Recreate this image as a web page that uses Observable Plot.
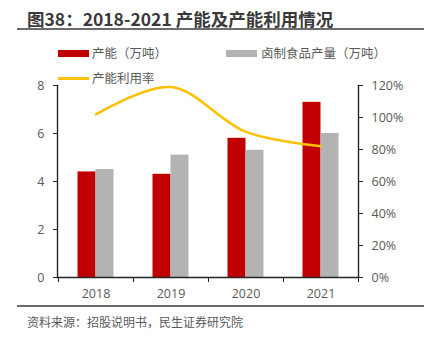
<!DOCTYPE html>
<html><head><meta charset="utf-8">
<script src="https://cdn.jsdelivr.net/npm/d3@7"></script>
<script src="https://cdn.jsdelivr.net/npm/@observablehq/plot@0.6"></script>
<style>
body{margin:0;background:#fff;}
#wrap{position:relative;width:431px;height:347px;overflow:hidden;font-family:"Noto Sans CJK SC","Open Sans",sans-serif;}
#chart{position:absolute;left:0;top:0;}
.t{position:absolute;white-space:nowrap;}
#title{left:27px;top:7px;font-size:17.5px;font-weight:bold;color:#3a3a3a;line-height:24px;}
.hr{position:absolute;left:17px;width:407px;height:2px;background:#6b6b6b;}
.leg{font-size:12.5px;color:#595959;line-height:16px;}
.sw{position:absolute;width:31px;}
#src{left:27px;top:313px;font-size:12px;color:#595959;line-height:17px;}
</style></head>
<body><div id="wrap">
<div id="chart"></div>
<div class="t" id="title">图38：2018-2021 产能及产能利用情况</div>
<div class="hr" style="top:28px"></div>
<div class="sw" style="left:58px;top:50px;height:7px;background:#C00000"></div>
<div class="t leg" style="left:92px;top:45px">产能（万吨）</div>
<div class="sw" style="left:226px;top:50px;height:7px;background:#B3B3B3"></div>
<div class="t leg" style="left:261px;top:45px">卤制食品产量（万吨）</div>
<div class="sw" style="left:58px;top:77px;height:3px;background:#FFC000"></div>
<div class="t leg" style="left:92px;top:70px">产能利用率</div>
<div class="hr" style="top:305px"></div>
<div class="t" id="src">资料来源：招股说明书，民生证券研究院</div>
</div>
<script>
const years = ["2018","2019","2020","2021"];
const capacity = [4.4, 4.3, 5.8, 7.3];
const output = [4.5, 5.1, 5.3, 6.0];
const utilization = [102, 119, 91, 82];
const leftTicks = [0, 2, 4, 6, 8];
const rightTicks = [0, 20, 40, 60, 80, 100, 120];

const rows = years.map((y, i) => ({year: y, cap: capacity[i], out: output[i], rate: utilization[i]}));
const k = 120 / 8; // percent per left-axis unit
const axisColor = "#262626";
const textColor = "#595959";

const chart = Plot.plot({
  width: 431, height: 347,
  marginTop: 85, marginBottom: 70, marginLeft: 57, marginRight: 73,
  style: {fontFamily: '"Open Sans","Noto Sans CJK SC",sans-serif', fontSize: "12.5px", background: "transparent"},
  x: {type: "band", domain: years, padding: 0, label: null},
  y: {domain: [0, 8], label: null},
  marks: [
    Plot.barY(rows, {x: "year", y: "cap", fill: "#C00000", insetLeft: 19.5, insetRight: 37.5}),
    Plot.barY(rows, {x: "year", y: "out", fill: "#B3B3B3", insetLeft: 37.5, insetRight: 19.5}),
    Plot.frame({anchor: "left", stroke: axisColor, strokeWidth: 1.4}),
    Plot.frame({anchor: "right", stroke: axisColor, strokeWidth: 1.4}),
    Plot.frame({anchor: "bottom", stroke: axisColor, strokeWidth: 1.4}),
    Plot.axisY({anchor: "left", ticks: leftTicks, tickSize: 4, tickPadding: 9, stroke: axisColor, fill: textColor, fontSize: 12.5, label: null}),
    Plot.axisY({anchor: "right", ticks: rightTicks.map(p => p / k), tickFormat: d => Math.round(d * k) + "%", tickSize: 4, tickPadding: 9, stroke: axisColor, fill: textColor, fontSize: 12.5, label: null}),
    Plot.axisX({ticks: years, tickSize: 5, tickFormat: () => "", dx: -37.5, stroke: axisColor, label: null}),
    Plot.axisX({ticks: years.slice(-1), tickSize: 5, tickFormat: () => "", dx: 37.5, stroke: axisColor, label: null}),
    Plot.axisX({ticks: years, tickSize: 0, tickPadding: 12, fill: textColor, fontSize: 12.5, label: null}),
    Plot.line(rows, {x: "year", y: d => d.rate / k, stroke: "#FFC000", strokeWidth: 2.5, curve: "catmull-rom"})
  ]
});
document.getElementById("chart").appendChild(chart);
</script>
</body></html>
